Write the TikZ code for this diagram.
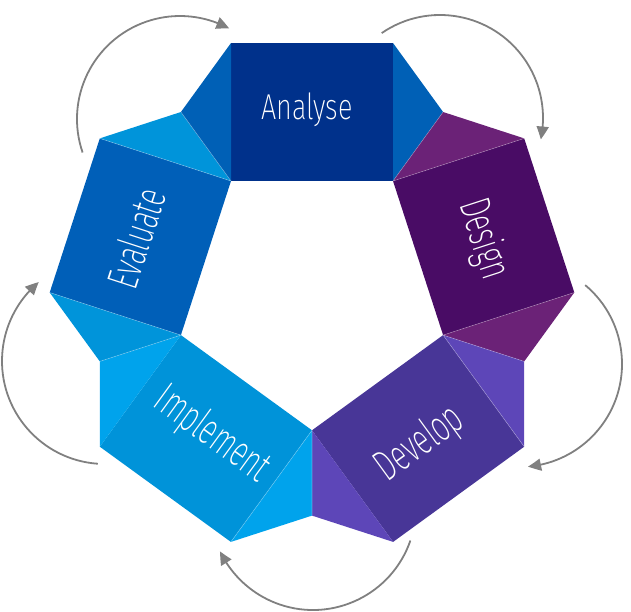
\documentclass[tikz,border=0pt]{standalone}
\usepackage{fontspec}
\usetikzlibrary{arrows.meta,bending,calc}
\newfontfamily\lblfont{Fira Sans ExtraLight}[FakeStretch=0.75]
\newfontfamily\lblfontn{Fira Sans ExtraLight}[FakeStretch=0.62]
\definecolor{anaB}{RGB}{0,49,139}
\definecolor{anaF}{RGB}{0,96,182}
\definecolor{desB}{RGB}{73,12,101}
\definecolor{desF}{RGB}{107,34,119}
\definecolor{devB}{RGB}{72,54,151}
\definecolor{devF}{RGB}{93,70,184}
\definecolor{impB}{RGB}{0,147,217}
\definecolor{impF}{RGB}{0,163,236}
\definecolor{evaB}{RGB}{0,95,184}
\definecolor{evaF}{RGB}{0,148,218}
\definecolor{arrowgray}{RGB}{128,128,128}
\tikzset{
  seam/.style={draw=white,draw opacity=0.3,line width=0.6pt},
  lbl/.style={text=white,font=\lblfont\fontsize{36}{36}\selectfont,inner sep=0pt},
  lbln/.style={text=white,font=\lblfontn\fontsize{44}{44}\selectfont,inner sep=0pt},
  cyc/.style={draw=arrowgray,line width=1.8pt,-{Triangle[length=13pt,width=12pt,bend]}}
}
\begin{document}
\begin{tikzpicture}[x=1pt,y=-1pt]
\useasboundingbox (0,0) rectangle (631,612);
% inner vertices
\coordinate (V0) at (231,181);
\coordinate (V1) at (393,181);
\coordinate (V2) at (443.1,335.1);
\coordinate (V3) at (312,430.3);
\coordinate (V4) at (180.9,335.1);
% outer corners
\coordinate (A0) at (231,43);
\coordinate (A1) at (393,43);
\coordinate (D1) at (524.2,138.4);
\coordinate (D2) at (574.3,292.5);
\coordinate (E2) at (524.2,446.7);
\coordinate (E3) at (393.1,541.9);
\coordinate (I3) at (230.9,541.9);
\coordinate (I4) at (99.8,446.7);
\coordinate (L4) at (49.7,292.5);
\coordinate (L0) at (99.8,138.4);
% fold points
\coordinate (F0) at (180.9,112);
\coordinate (F1) at (443.1,112);
\coordinate (F2) at (524.2,361.4);
\coordinate (F3) at (312,515.6);
\coordinate (F4) at (99.8,361.4);
% rectangles
\fill[anaB] (V0) -- (A0) -- (A1) -- (V1) -- cycle;
\fill[desB] (V1) -- (D1) -- (D2) -- (V2) -- cycle;
\fill[devB] (V2) -- (E2) -- (E3) -- (V3) -- cycle;
\fill[impB] (V3) -- (I3) -- (I4) -- (V4) -- cycle;
\fill[evaB] (V4) -- (L4) -- (L0) -- (V0) -- cycle;
% folds
\fill[evaF] (V0) -- (L0) -- (F0) -- cycle;
\fill[anaF] (V0) -- (F0) -- (A0) -- cycle;
\fill[anaF] (V1) -- (A1) -- (F1) -- cycle;
\fill[desF] (V1) -- (F1) -- (D1) -- cycle;
\fill[desF] (V2) -- (D2) -- (F2) -- cycle;
\fill[devF] (V2) -- (F2) -- (E2) -- cycle;
\fill[devF] (V3) -- (E3) -- (F3) -- cycle;
\fill[impF] (V3) -- (F3) -- (I3) -- cycle;
\fill[impF] (V4) -- (I4) -- (F4) -- cycle;
\fill[evaF] (V4) -- (F4) -- (L4) -- cycle;
% seams
\path[seam] (V0) -- (F0) (V0) -- (L0);
\path[seam] (V1) -- (F1) (V1) -- (D1);
\path[seam] (V2) -- (F2) (V2) -- (D2) (V2) -- (E2);
\path[seam] (V3) -- (F3) (V3) -- (I3);
\path[seam] (V4) -- (F4) (V4) -- (L4);
% labels
\node[lbl] (analyse) at (307,110) {Analyse};
\node[lbln,rotate=-72] (design) at (483,239) {Design};
\node[lbln,rotate=36] (develop) at (420,444) {Develop};
\node[lbln,rotate=-36] (implement) at (212,435) {Implement};
\node[lbln,rotate=72] (evaluate) at (136,238) {Evaluate};
% cycle arrows
\coordinate (c1) at (180,119);
\coordinate (c2) at (440,118);
\coordinate (c3) at (519,364);
\coordinate (c4) at (313,507);
\coordinate (c5) at (105,361);
\draw[cyc] ($(c1)+(161:103)$) arc[start angle=161,end angle=298.5,radius=103];
\draw[cyc] ($(c2)+(235.5:103)$) arc[start angle=235.5,end angle=372,radius=103];
\draw[cyc] ($(c3)+(310:103)$) arc[start angle=310,end angle=445,radius=103];
\draw[cyc] ($(c4)+(19:103)$) arc[start angle=19,end angle=154.5,radius=103];
\draw[cyc] ($(c5)+(94:103)$) arc[start angle=94,end angle=230,radius=103];
\end{tikzpicture}
\end{document}
